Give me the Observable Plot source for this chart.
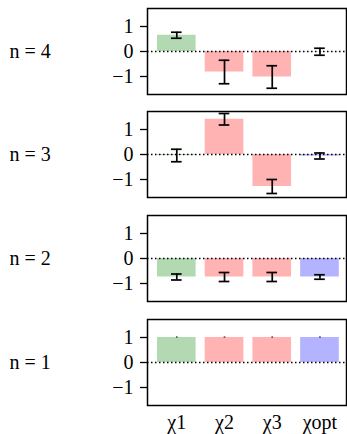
<!DOCTYPE html>
<html><head><meta charset="utf-8">
<script src="https://cdn.jsdelivr.net/npm/d3@7"></script>
<script src="https://cdn.jsdelivr.net/npm/@observablehq/plot@0.6"></script>
<style>body{margin:0;background:#fff}</style>
</head><body><div id="chart"></div>
<script>
const categories = ["χ1", "χ2", "χ3", "χopt"];
const nValues = [4, 3, 2, 1];
const means_n4 = [0.65, -0.82, -1.02, -0.01];
const errs_n4  = [0.12, 0.47, 0.45, 0.14];
const means_n3 = [-0.04, 1.41, -1.28, -0.06];
const errs_n3  = [0.25, 0.23, 0.28, 0.12];
const means_n2 = [-0.74, -0.74, -0.74, -0.74];
const errs_n2  = [0.12, 0.18, 0.18, 0.09];
const means_n1 = [1.0, 1.0, 1.0, 1.0];
const errs_n1  = [0.02, 0.02, 0.02, 0.02];
const yTicks = [-1, 0, 1];
const palette = ["#b3d9b3", "#ffb3b3", "#ffb3b3", "#b3b3ff"];

const meansByN = {4: means_n4, 3: means_n3, 2: means_n2, 1: means_n1};
const errsByN = {4: errs_n4, 3: errs_n3, 2: errs_n2, 1: errs_n1};
const panelHeights = [103, 104, 104, 123];

const container = document.getElementById("chart");

nValues.forEach((n, k) => {
  const rows = categories.map((c, i) => ({cat: c, mean: meansByN[n][i], err: errsByN[n][i]}));
  const capped = rows.filter(d => d.err > 0.05);
  const last = k === nValues.length - 1;
  const h = panelHeights[k];
  const marks = [
    Plot.barY(rows, {x: "cat", y: "mean", fill: "cat"}),
    Plot.ruleY([0], {stroke: "black", strokeWidth: 1.5, strokeDasharray: "1.5,2.5"}),
    Plot.ruleX(rows, {x: "cat", y1: d => d.mean - d.err, y2: d => d.mean + d.err, stroke: "black", strokeWidth: 1.7}),
    Plot.tickY(capped, {x: "cat", y: d => d.mean - d.err, stroke: "black", strokeWidth: 1.7, insetLeft: 14, insetRight: 14}),
    Plot.tickY(capped, {x: "cat", y: d => d.mean + d.err, stroke: "black", strokeWidth: 1.7, insetLeft: 14, insetRight: 14}),
    Plot.axisY({ticks: yTicks, tickSize: 7, tickPadding: 7, label: null, strokeWidth: 1.3,
      tickFormat: d => d < 0 ? `\u2212${-d}` : `${d}`}),
    Plot.text([n], {text: d => `n = ${d}`, frameAnchor: "left", lineAnchor: "middle", dx: -138, textAnchor: "start", ariaLabel: "n-labels"}),
    Plot.frame({stroke: "black", strokeWidth: 1.5})
  ];
  if (last) {
    marks.push(Plot.text(categories, {x: d => d, text: d => d, frameAnchor: "bottom", lineAnchor: "middle", dy: 17, textAnchor: "middle", ariaLabel: "x-labels"}));
  }
  const chart = Plot.plot({
    width: 347, height: h,
    marginTop: 8, marginBottom: h - 8 - 86, marginLeft: 147, marginRight: 1,
    style: {fontFamily: "Liberation Serif", fontSize: "20px"},
    x: {domain: categories, paddingInner: 0.19, paddingOuter: 0.18, align: 0.58, axis: null, round: false},
    y: {domain: [-1.72, 1.72], axis: null},
    color: {domain: categories, range: palette},
    marks
  });

  d3.select(chart).selectAll('g[aria-label="n-labels"] text').each(function() {
    const t = d3.select(this);
    const num = t.text().split("= ")[1];
    t.text(null);
    t.append("tspan").attr("font-style", "italic").text("n");
    t.append("tspan").attr("dx", 13).text("=");
    t.append("tspan").attr("dx", 11).text(num);
  });
  d3.select(chart).selectAll('g[aria-label="x-labels"] text').each(function() {
    const t = d3.select(this);
    const s = t.text();
    t.text(null);
    t.append("tspan").attr("font-style", "italic").text(s[0]);
    t.append("tspan").attr("dx", 1.5).attr("dy", 4).attr("font-size", 15).text(s.slice(1));
  });
  container.appendChild(chart);
});
</script>
</body></html>
